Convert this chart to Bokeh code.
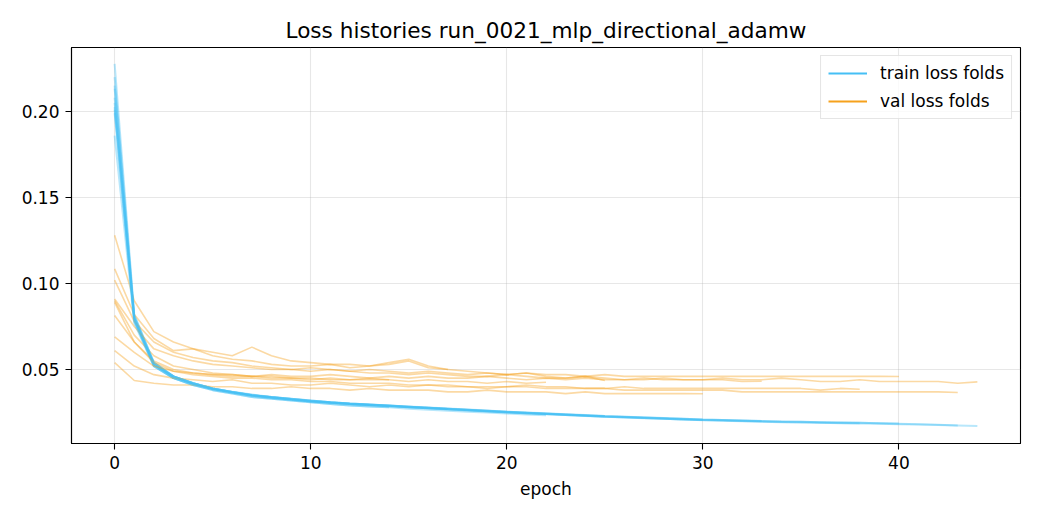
from bokeh.plotting import figure
from bokeh.models import Range1d, FixedTicker, NumeralTickFormatter, Legend, LegendItem
from bokeh.embed import file_html
from bokeh.resources import INLINE

TITLE = "Loss histories run_0021_mlp_directional_adamw"
X_TICKS = [0, 10, 20, 30, 40]
Y_TICKS = [0.05, 0.10, 0.15, 0.20]

train_f1 = [0.2025, 0.079, 0.052, 0.045, 0.041, 0.038, 0.036, 0.034, 0.033, 0.032, 0.031, 0.030, 0.029, 0.0285, 0.028]
train_f2 = [0.2277, 0.082, 0.054, 0.046, 0.042, 0.039, 0.037, 0.035, 0.034, 0.033, 0.032, 0.031, 0.030, 0.0295, 0.029, 0.028, 0.0275, 0.027]
train_f3 = [0.186, 0.077, 0.052, 0.045, 0.041, 0.038, 0.036, 0.034, 0.033, 0.032, 0.031, 0.030, 0.029, 0.0285, 0.028, 0.0272, 0.0266, 0.026, 0.0255, 0.025, 0.0244, 0.0239, 0.0234]
train_f4 = [0.2132, 0.081, 0.054, 0.046, 0.042, 0.039, 0.037, 0.0355, 0.034, 0.033, 0.032, 0.031, 0.0303, 0.0297, 0.029, 0.0284, 0.0278, 0.0272, 0.0266, 0.026, 0.0254, 0.0248, 0.0243, 0.0238, 0.0233, 0.0228]
train_f5 = [0.201, 0.079, 0.053, 0.046, 0.042, 0.039, 0.037, 0.035, 0.034, 0.0328, 0.0316, 0.0308, 0.030, 0.0294, 0.0288, 0.0282, 0.0276, 0.027, 0.0264, 0.0258, 0.0252, 0.0246, 0.0241, 0.0236, 0.0231, 0.0226, 0.0222, 0.0218, 0.0214, 0.021, 0.0206]
train_f6 = [0.215, 0.080, 0.053, 0.046, 0.042, 0.0388, 0.0368, 0.035, 0.0338, 0.0326, 0.0316, 0.0308, 0.0301, 0.0295, 0.0289, 0.0283, 0.0277, 0.0271, 0.0265, 0.0259, 0.0253, 0.0248, 0.0243, 0.0238, 0.0233, 0.0228, 0.0224, 0.022, 0.0216, 0.0212, 0.0208, 0.0205, 0.0202, 0.0199]
train_f7 = [0.208, 0.079, 0.053, 0.045, 0.0415, 0.0385, 0.0365, 0.0348, 0.0335, 0.0324, 0.0314, 0.0306, 0.0299, 0.0293, 0.0287, 0.0281, 0.0275, 0.0269, 0.0263, 0.0257, 0.0251, 0.0246, 0.0241, 0.0236, 0.0231, 0.0226, 0.0222, 0.0218, 0.0214, 0.021, 0.0206, 0.0203, 0.020, 0.0197, 0.0195, 0.0193, 0.0191, 0.0189, 0.0187]
train_f8 = [0.220, 0.081, 0.054, 0.046, 0.042, 0.039, 0.037, 0.0352, 0.0339, 0.0328, 0.0318, 0.031, 0.0303, 0.0296, 0.029, 0.0284, 0.0278, 0.0272, 0.0266, 0.026, 0.0254, 0.0249, 0.0244, 0.0239, 0.0234, 0.0229, 0.0225, 0.0221, 0.0217, 0.0213, 0.0209, 0.0206, 0.0203, 0.020, 0.0198, 0.0196, 0.0194, 0.0192, 0.019, 0.0188, 0.0186]
train_f9 = [0.199, 0.078, 0.052, 0.045, 0.041, 0.0385, 0.0365, 0.0348, 0.0335, 0.0324, 0.0314, 0.0306, 0.0299, 0.0292, 0.0286, 0.028, 0.0274, 0.0268, 0.0262, 0.0256, 0.025, 0.0245, 0.024, 0.0235, 0.023, 0.0225, 0.0221, 0.0217, 0.0213, 0.0209, 0.0205, 0.0202, 0.0199, 0.0196, 0.0194, 0.0192, 0.019, 0.0188, 0.0186, 0.0184, 0.0182, 0.018, 0.0177, 0.0174]
train_f10 = [0.205, 0.080, 0.053, 0.046, 0.042, 0.039, 0.037, 0.0352, 0.0339, 0.0328, 0.0318, 0.031, 0.0303, 0.0297, 0.0291, 0.0285, 0.0279, 0.0273, 0.0267, 0.0261, 0.0255, 0.025, 0.0245, 0.024, 0.0235, 0.023, 0.0226, 0.0222, 0.0218, 0.0214, 0.021, 0.0207, 0.0204, 0.0201, 0.0198, 0.0196, 0.0194, 0.0192, 0.019, 0.0188, 0.0185, 0.0182, 0.0179, 0.0175, 0.0171]

val_f1 = [0.0814, 0.066, 0.055, 0.050, 0.048, 0.047, 0.046, 0.046, 0.045, 0.045, 0.044, 0.045, 0.044, 0.044, 0.044]
val_f2 = [0.128, 0.090, 0.072, 0.066, 0.062, 0.060, 0.058, 0.063, 0.058, 0.055, 0.054, 0.053, 0.053, 0.052, 0.054, 0.056, 0.052, 0.050]
val_f3 = [0.090, 0.070, 0.058, 0.052, 0.050, 0.048, 0.047, 0.046, 0.046, 0.045, 0.045, 0.044, 0.044, 0.045, 0.044, 0.043, 0.044, 0.043, 0.043, 0.042, 0.043, 0.042, 0.0426]
val_f4 = [0.1085, 0.082, 0.068, 0.061, 0.062, 0.058, 0.056, 0.055, 0.053, 0.052, 0.052, 0.053, 0.051, 0.052, 0.053, 0.055, 0.051, 0.050, 0.049, 0.048, 0.047, 0.048, 0.046, 0.045, 0.046, 0.0436]
val_f5 = [0.054, 0.0436, 0.042, 0.041, 0.041, 0.040, 0.040, 0.039, 0.039, 0.040, 0.039, 0.039, 0.038, 0.039, 0.038, 0.038, 0.038, 0.037, 0.037, 0.038, 0.037, 0.037, 0.037, 0.036, 0.037, 0.036, 0.036, 0.036, 0.036, 0.036, 0.0359]
val_f6 = [0.102, 0.078, 0.066, 0.060, 0.057, 0.055, 0.054, 0.052, 0.051, 0.050, 0.049, 0.050, 0.049, 0.048, 0.048, 0.047, 0.048, 0.047, 0.046, 0.046, 0.047, 0.046, 0.045, 0.045, 0.046, 0.045, 0.044, 0.044, 0.045, 0.044, 0.044, 0.044, 0.043, 0.0432]
val_f7 = [0.061, 0.052, 0.047, 0.045, 0.044, 0.043, 0.044, 0.042, 0.042, 0.041, 0.041, 0.042, 0.041, 0.040, 0.041, 0.040, 0.041, 0.040, 0.040, 0.039, 0.040, 0.041, 0.040, 0.040, 0.039, 0.039, 0.040, 0.039, 0.039, 0.039, 0.039, 0.039, 0.039, 0.039, 0.039, 0.039, 0.038, 0.039, 0.0385]
val_f8 = [0.091, 0.075, 0.062, 0.058, 0.055, 0.053, 0.052, 0.051, 0.050, 0.050, 0.051, 0.050, 0.049, 0.050, 0.049, 0.048, 0.049, 0.048, 0.047, 0.048, 0.047, 0.048, 0.047, 0.047, 0.046, 0.047, 0.046, 0.046, 0.046, 0.046, 0.046, 0.046, 0.046, 0.046, 0.046, 0.046, 0.046, 0.046, 0.046, 0.046, 0.0459]
val_f9 = [0.089, 0.066, 0.054, 0.049, 0.047, 0.046, 0.045, 0.045, 0.044, 0.044, 0.043, 0.043, 0.042, 0.042, 0.042, 0.041, 0.041, 0.041, 0.040, 0.040, 0.040, 0.040, 0.039, 0.039, 0.039, 0.039, 0.038, 0.038, 0.038, 0.038, 0.038, 0.038, 0.037, 0.037, 0.037, 0.037, 0.037, 0.037, 0.037, 0.037, 0.037, 0.037, 0.037, 0.0366]
val_f10 = [0.069, 0.060, 0.052, 0.049, 0.048, 0.047, 0.047, 0.046, 0.047, 0.046, 0.046, 0.047, 0.046, 0.045, 0.046, 0.045, 0.046, 0.045, 0.045, 0.046, 0.045, 0.044, 0.045, 0.044, 0.045, 0.044, 0.044, 0.045, 0.044, 0.044, 0.044, 0.045, 0.044, 0.044, 0.045, 0.044, 0.043, 0.043, 0.044, 0.043, 0.043, 0.043, 0.043, 0.042, 0.0428]

train_folds = [train_f1, train_f2, train_f3, train_f4, train_f5, train_f6, train_f7, train_f8, train_f9, train_f10]
val_folds = [val_f1, val_f2, val_f3, val_f4, val_f5, val_f6, val_f7, val_f8, val_f9, val_f10]

TRAIN_COLOR = "#45bff5"
VAL_COLOR = "#f6a11c"
FONT = "DejaVu Sans"
TICK_FS = "17px"

p = figure(
    frame_width=949, frame_height=396,
    min_border_left=71, min_border_right=4, min_border_top=47, min_border_bottom=61,
    x_range=Range1d(-2.2, 46.2), y_range=Range1d(0.00698, 0.2372),
    output_backend="svg", toolbar_location=None, title=TITLE,
)
p.background_fill_color = "white"
p.border_fill_color = "white"
p.outline_line_color = "black"
p.outline_line_width = 1.1

p.title.align = "center"
p.title.text_font = FONT
p.title.text_font_size = "21.6px"
p.title.text_font_style = "normal"
p.title.text_color = "black"

for ax in (p.xaxis[0], p.yaxis[0]):
    ax.axis_line_color = "black"
    ax.axis_line_width = 1.1
    ax.major_tick_line_color = "black"
    ax.major_tick_line_width = 1.1
    ax.major_tick_out = 6
    ax.major_tick_in = 0
    ax.minor_tick_line_color = None
    ax.major_label_text_font = FONT
    ax.major_label_text_font_size = TICK_FS
    ax.major_label_text_color = "black"
    ax.axis_label_text_font = FONT
    ax.axis_label_text_font_size = TICK_FS
    ax.axis_label_text_font_style = "normal"
    ax.axis_label_text_color = "black"
    ax.major_label_standoff = 6

p.xaxis.ticker = FixedTicker(ticks=X_TICKS)
p.yaxis.ticker = FixedTicker(ticks=Y_TICKS)
p.yaxis.formatter = NumeralTickFormatter(format="0.00")
p.xaxis.axis_label = "epoch"
p.xaxis.axis_label_standoff = 7

p.xgrid.grid_line_color = "#b0b0b0"
p.ygrid.grid_line_color = "#b0b0b0"
p.xgrid.grid_line_alpha = 0.3
p.ygrid.grid_line_alpha = 0.3
p.xgrid.grid_line_width = 1.1
p.ygrid.grid_line_width = 1.1

for tr, va in zip(train_folds, val_folds):
    p.line(list(range(len(tr))), tr, line_color=TRAIN_COLOR, line_width=2.0, line_alpha=0.38)
    p.line(list(range(len(va))), va, line_color=VAL_COLOR, line_width=1.6, line_alpha=0.4)

# legend proxies, placed outside the visible ranges
r_train = p.line([-20, -19], [1, 1], line_color=TRAIN_COLOR, line_width=2.2)
r_val = p.line([-20, -19], [1, 1], line_color=VAL_COLOR, line_width=2.2)

legend = Legend(
    items=[LegendItem(label="train loss folds", renderers=[r_train]),
           LegendItem(label="val loss folds", renderers=[r_val])],
    location="top_right",
)
legend.margin = 8
legend.padding = 7
legend.spacing = 8
legend.glyph_width = 39
legend.glyph_height = 20
legend.label_height = 20
legend.label_standoff = 13
legend.label_text_font = FONT
legend.label_text_font_size = TICK_FS
legend.label_text_color = "black"
legend.border_line_color = "#cccccc"
legend.border_line_width = 1.1
legend.background_fill_alpha = 0.8
p.add_layout(legend, "center")

open("out.html", "w").write(file_html(p, INLINE))
